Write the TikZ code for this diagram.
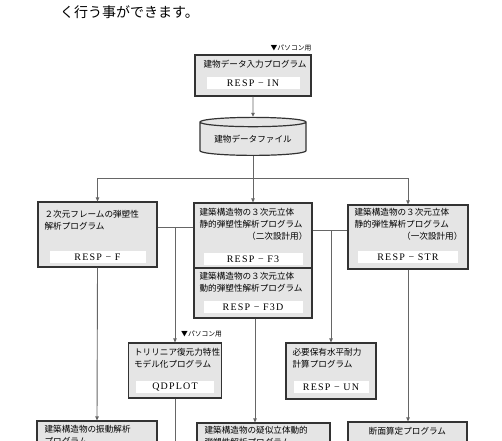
\documentclass[tikz,border=0pt]{standalone}
\usepackage{fontspec}
\setmainfont{Liberation Serif}
\newfontfamily\jpfont{Noto Sans CJK JP}
\usetikzlibrary{shapes.geometric,arrows.meta,positioning}

\begin{document}
\begin{tikzpicture}[
  x=1pt, y=-1pt,
  font=\jpfont\fontsize{8.6}{11.5}\selectfont,
  prog/.style={draw=black!80,line width=1.2pt,fill=black!10,inner sep=0pt},
  txt/.style={inner sep=0pt,align=left,font=\jpfont\fontsize{8.6}{11.5}\selectfont},
  code/.style={fill=white,inner sep=0pt,minimum height=12.5pt,font=\fontsize{10}{10}\selectfont\addfontfeature{LetterSpace=12}},
  pc/.style={inner sep=0pt,font=\jpfont\fontsize{6.8}{7}\selectfont},
  line/.style={draw=black!60,line width=0.9pt},
  arrow/.style={line,-{Triangle[length=4pt,width=3.5pt]}},
]
\useasboundingbox (0,0) rectangle (502,440);
\clip (0,0) rectangle (502,440);
\fill[white] (0,0) rectangle (502,440);

\node[inner sep=0pt,anchor=west,font=\jpfont\fontsize{14}{14}\selectfont] (lead) at (60,12) {く行う事ができます。};

% input program and data file
\node[prog,minimum width=116pt,minimum height=41pt] (in) at (253,75.5) {};
\node[pc,anchor=south east] (pcin) at ([yshift=3pt]in.north east) {▼パソコン用};
\node[txt,below right=6pt and 9pt of in.north west] (inT) {建物データ入力プログラム};
\node[code,minimum width=93pt,above=7pt of in.south] (inC) {RESP − IN};
\node[cylinder,shape border rotate=90,aspect=0.12,draw=black!80,line width=1.2pt,fill=black!10,
      minimum width=106pt,minimum height=38pt,txt] (db) at (253,139) {建物データファイル};

% first row
\node[prog,minimum width=119pt,minimum height=65pt] (f) at (97.5,234.5) {};
\node[txt,below right=9pt and 7pt of f.north west] (fT) {２次元フレームの弾塑性\\解析プログラム};
\node[code,minimum width=96pt,above=4pt of f.south] (fC) {RESP − F};

\node[prog,minimum width=118pt,minimum height=65pt] (f3) at (253,235.5) {};
\node[txt,below right=6pt and 6pt of f3.north west] (f3T) {建築構造物の３次元立体\\静的弾塑性解析プログラム};
\node[txt,below left=30pt and 5pt of f3.north east] (f3U) {（二次設計用）};
\node[code,minimum width=99pt,above=3pt of f3.south] (f3C) {RESP − F3};

\node[prog,minimum width=118pt,minimum height=50pt,below=-1.2pt of f3] (f3d) {};
\node[txt,below right=5pt and 6pt of f3d.north west] (f3dT) {建築構造物の３次元立体\\動的弾塑性解析プログラム};
\node[code,minimum width=99pt,above=5pt of f3d.south] (f3dC) {RESP − F3D};

\node[prog,minimum width=120pt,minimum height=64pt] (str) at (408,237) {};
\node[txt,below right=4pt and 7pt of str.north west] (strT) {建築構造物の３次元立体\\静的弾性解析プログラム};
\node[txt,below left=28pt and 6pt of str.north east] (strU) {（一次設計用）};
\node[code,minimum width=100pt,above=6pt of str.south] (strC) {RESP − STR};

% second row
\node[prog,minimum width=93pt,minimum height=55pt] (qd) at (175,370.5) {};
\node[pc,anchor=south west] (pcqd) at ([xshift=6pt,yshift=5pt]qd.north) {▼パソコン用};
\node[txt,below right=6pt and 6pt of qd.north west] (qdT) {トリリニア復元力特性\\モデル化プログラム};
\node[code,minimum width=78pt,above=5pt of qd.south] (qdC) {QDPLOT};

\node[prog,minimum width=90pt,minimum height=56pt] (un) at (331,371) {};
\node[txt,below right=6pt and 7pt of un.north west] (unT) {必要保有水平耐力\\計算プログラム};
\node[code,minimum width=75pt,above=6pt of un.south] (unC) {RESP − UN};

% third row
\node[prog,minimum width=120pt,minimum height=60pt] (vib) at (97,451) {};
\node[txt,below right=5pt and 8pt of vib.north west] (vibT) {建築構造物の振動解析\\プログラム};
\node[prog,minimum width=133pt,minimum height=60pt] (dyn) at (263.5,453) {};
\node[txt,below right=4pt and 8pt of dyn.north west] (dynT) {建築構造物の疑似立体動的\\弾塑性解析プログラム};
\node[prog,minimum width=119pt,minimum height=60pt] (sec) at (407.5,452) {};
\node[txt,below=6pt of sec.north] (secT) {断面算定プログラム};

% connectors
\coordinate (bus) at (253,178);
\coordinate (jl) at (175,227);
\coordinate (jr) at (331,230);
\coordinate (qdout) at (175,445);
\draw[arrow] (in.south) -- (db.north);
\draw[line] (db.south) -- (bus);
\draw[arrow] (bus) -| (f.north);
\draw[arrow] (bus) -- (f3.north);
\draw[arrow] (bus) -| (str.north);
\draw[line] (f.east |- jl) -- (f3.west |- jl);
\draw[arrow] (jl) -- (qd.north);
\draw[line] (f3.east |- jr) -- (str.west |- jr);
\draw[arrow] (jr) -- (un.north);
\draw[arrow] (f.south) -- (vib.north);
\draw[arrow] ([xshift=2pt]f3d.south) -- ([xshift=2pt]f3d.south |- dyn.north);
\draw[arrow] (str.south) -- (str.south |- sec.north);
\draw[line] (qd.south) -- (qdout);
\end{tikzpicture}
\end{document}
